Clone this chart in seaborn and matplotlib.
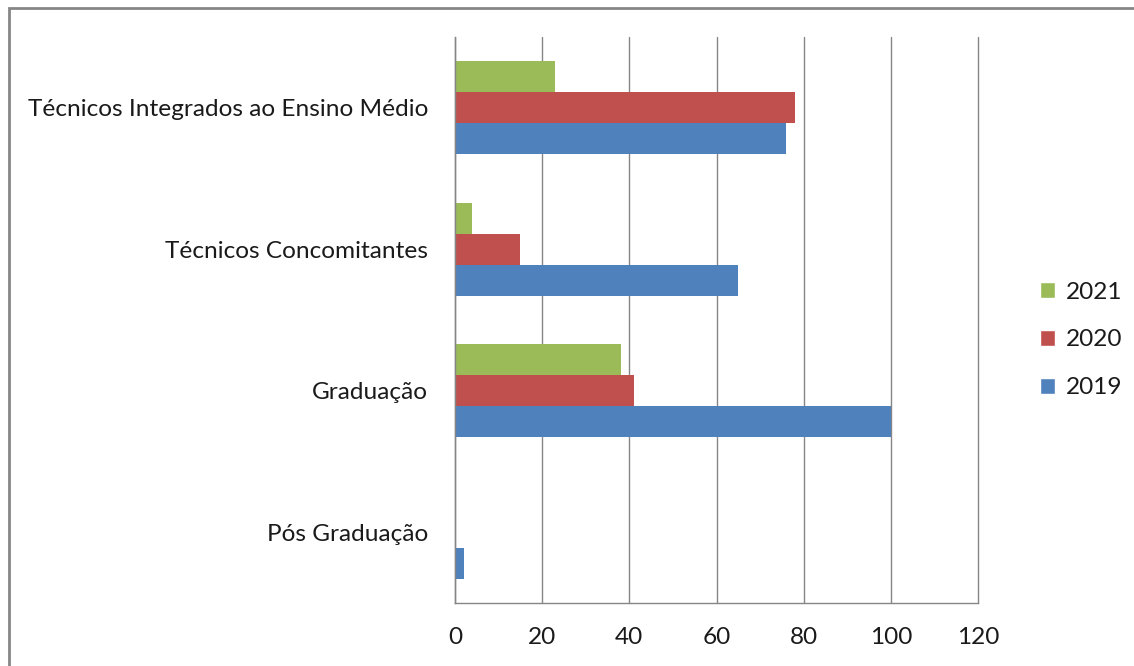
import matplotlib
matplotlib.use("Agg")
import matplotlib.pyplot as plt
import seaborn as sns
import pandas as pd
from matplotlib.patches import Patch, Rectangle

categories = ["Técnicos Integrados ao Ensino Médio", "Técnicos Concomitantes",
              "Graduação", "Pós Graduação"]
years = ["2021", "2020", "2019"]
values_2021 = [23, 4, 38, 0]
values_2020 = [78, 15, 41, 0]
values_2019 = [76, 65, 100, 2]
x_ticks = [0, 20, 40, 60, 80, 100, 120]

colors = {"2021": "#9BBB59", "2020": "#C0504D", "2019": "#4F81BD"}

rows = []
for yr, vals in zip(years, [values_2021, values_2020, values_2019]):
    for c, v in zip(categories, vals):
        rows.append({"cat": c, "year": yr, "value": v})
df = pd.DataFrame(rows)

sns.set_style("white")
plt.rcParams["font.family"] = ["Lato", "DejaVu Sans"]
FS = 17.6

fig = plt.figure(figsize=(11.34, 6.66), dpi=100)
ax = fig.add_axes([455/1134, 1-603/666, 523/1134, 566/666])

sns.barplot(data=df, y="cat", x="value", hue="year", order=categories,
            hue_order=years, palette=colors, orient="h", width=0.66,
            saturation=1, ax=ax, legend=False, linewidth=0)

ax.set_xlim(0, 120)
ax.set_ylim(3.5, -0.5)
ax.set_xticks(x_ticks)
ax.set_xticklabels([str(t) for t in x_ticks], fontsize=FS)
ax.set_xlabel("")
ax.set_ylabel("")
ax.tick_params(axis="y", which="major", length=0, pad=19.5, labelsize=FS,
               labelcolor="#1a1a1a")
ax.set_yticks([-0.5, 0.5, 1.5, 2.5, 3.5], minor=True)
ax.tick_params(axis="y", which="minor", length=7, color="#868686", width=1)
ax.tick_params(axis="x", which="major", length=7, color="#868686", width=1,
               pad=10.5, labelcolor="#1a1a1a")
ax.grid(axis="x", color="#868686", linewidth=1)
for gl in ax.get_xgridlines():
    gl.set_clip_on(False)
ax.set_axisbelow(True)
for s in ["top", "right"]:
    ax.spines[s].set_visible(False)
for s in ["left", "bottom"]:
    ax.spines[s].set_color("#868686")
    ax.spines[s].set_linewidth(1)

handles = [Patch(facecolor=colors[y], label=y) for y in years]
leg = fig.legend(handles=handles, loc="center left",
                 bbox_to_anchor=(1018/1134, 1-340/666),
                 frameon=False, fontsize=FS, handlelength=0.62, handleheight=0.62,
                 labelspacing=1.1, handletextpad=0.45)
for t in leg.get_texts():
    t.set_color("#1a1a1a")

fig.patches.append(Rectangle((9/1134, -0.1), 1.2, 1 - 8/666 + 0.1,
                             transform=fig.transFigure, fill=False,
                             edgecolor="#868686", linewidth=2))

fig.savefig("out.png", dpi=100, facecolor="white")
